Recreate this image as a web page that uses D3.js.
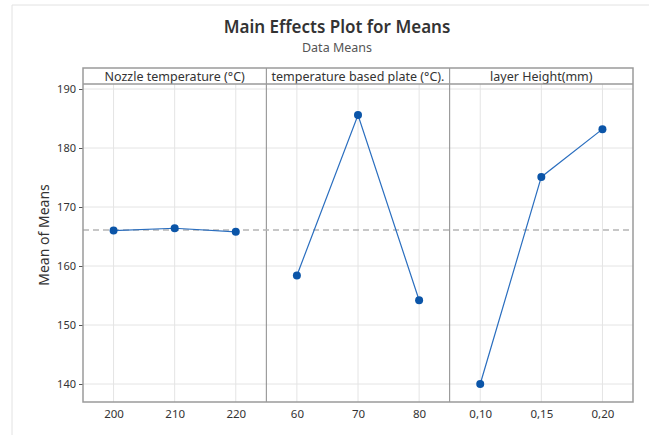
<!doctype html>
<meta charset="utf-8">
<style>
    body { margin: 0; background: #fff; font-family: "Noto Sans", "Open Sans", sans-serif; }
    .grid line { stroke: #e4e4e4; }
</style>
<body>
<script src="https://d3js.org/d3.v7.min.js"></script>
<script>
    // factors and their level labels
    const factors = ['Nozzle temperature (°C)', 'temperature based plate (°C).', 'layer Height(mm)'];
    const nozzleLevels = ['200', '210', '220'];
    const plateLevels = ['60', '70', '80'];
    const layerLevels = ['0,10', '0,15', '0,20'];
    // means
    const nozzleMeans = [166.0, 166.4, 165.8];
    const plateMeans = [158.4, 185.6, 154.2];
    const layerMeans = [140.0, 175.1, 183.2];
    const grandMean = 166.1;
    const yTicks = [140, 150, 160, 170, 180, 190];

    const panels = [
        {name: factors[0], levels: nozzleLevels, means: nozzleMeans},
        {name: factors[1], levels: plateLevels, means: plateMeans},
        {name: factors[2], levels: layerLevels, means: layerMeans}
    ];

    const W = 649, H = 435;
    const plotLeft = 83, plotRight = 633, stripTop = 68, plotTop = 84, plotBottom = 402;
    const panelW = (plotRight - plotLeft) / panels.length;

    const svg = d3.select('body').append('svg')
        .attr('width', W).attr('height', H);

    // faint outer frame
    svg.append('line').attr('x1', 12).attr('x2', W).attr('y1', 5).attr('y2', 5)
        .attr('stroke', '#e2e2e2');
    svg.append('line').attr('x1', 12).attr('x2', 12).attr('y1', 5).attr('y2', H)
        .attr('stroke', '#e2e2e2');

    svg.append('text').attr('x', 337).attr('y', 33).attr('text-anchor', 'middle')
        .attr('font-size', 17).attr('font-weight', 600).attr('fill', '#333')
        .text('Main Effects Plot for Means');
    svg.append('text').attr('x', 337).attr('y', 52).attr('text-anchor', 'middle')
        .attr('font-size', 12.5).attr('fill', '#555')
        .text('Data Means');

    const y = d3.scaleLinear().domain([136.95, 190.85]).range([plotBottom, plotTop]);

    // horizontal grid
    svg.append('g').attr('class', 'grid')
        .selectAll('line').data(yTicks).enter().append('line')
        .attr('x1', plotLeft).attr('x2', plotRight)
        .attr('y1', d => y(d)).attr('y2', d => y(d));

    // y axis
    const yAxis = svg.append('g').attr('transform', `translate(${plotLeft}, 0)`)
        .call(d3.axisLeft(y).tickValues(yTicks).tickSize(4).tickPadding(3));
    yAxis.select('.domain').remove();
    yAxis.selectAll('line').attr('stroke', '#555');
    yAxis.selectAll('text').attr('font-size', 11).attr('fill', '#333')
        .attr('font-family', '"Noto Sans", sans-serif');

    svg.append('text')
        .attr('transform', `translate(49, ${(plotTop + plotBottom) / 2 - 8}) rotate(-90)`)
        .attr('text-anchor', 'middle').attr('font-size', 14).attr('fill', '#333')
        .text('Mean of Means');

    panels.forEach((p, i) => {
        const x0 = plotLeft + i * panelW;
        const x = d3.scalePoint().domain(p.levels).range([x0, x0 + panelW]).padding(0.5);
        const g = svg.append('g');

        g.append('g').attr('class', 'grid')
            .selectAll('line').data(p.levels).enter().append('line')
            .attr('x1', d => x(d)).attr('x2', d => x(d))
            .attr('y1', plotTop).attr('y2', plotBottom);

        const xAxis = g.append('g').attr('transform', `translate(0, ${plotBottom})`)
            .call(d3.axisBottom(x).tickSize(0).tickPadding(8));
        xAxis.select('.domain').remove();
        xAxis.selectAll('text').attr('font-size', 11.5).attr('fill', '#333')
            .attr('font-family', '"Noto Sans", sans-serif');

        // strip label
        g.append('text').attr('x', x0 + panelW / 2).attr('y', stripTop + 12.5)
            .attr('text-anchor', 'middle').attr('font-size', 12.5).attr('fill', '#333')
            .text(p.name);

        if (i > 0) {
            g.append('line').attr('x1', x0).attr('x2', x0).attr('y1', stripTop).attr('y2', plotBottom)
                .attr('stroke', '#8a8a8a');
        }
    });

    // grand mean reference
    svg.append('line').attr('x1', plotLeft).attr('x2', plotRight)
        .attr('y1', y(grandMean)).attr('y2', y(grandMean))
        .attr('stroke', '#b5b5b5').attr('stroke-width', 1.4).attr('stroke-dasharray', '6,4');

    panels.forEach((p, i) => {
        const x0 = plotLeft + i * panelW;
        const x = d3.scalePoint().domain(p.levels).range([x0, x0 + panelW]).padding(0.5);
        const pts = p.levels.map((l, j) => [x(l), y(p.means[j])]);
        svg.append('path').attr('d', d3.line()(pts))
            .attr('fill', 'none').attr('stroke', '#2a6ebf').attr('stroke-width', 1.2);
        svg.selectAll(null).data(pts).enter().append('circle')
            .attr('cx', d => d[0]).attr('cy', d => d[1]).attr('r', 4)
            .attr('fill', '#0b55a8');
    });

    // frame and strip separator
    svg.append('rect').attr('x', plotLeft).attr('y', stripTop)
        .attr('width', plotRight - plotLeft).attr('height', plotBottom - stripTop)
        .attr('fill', 'none').attr('stroke', '#9a9a9a').attr('stroke-width', 1.5);
    svg.append('line').attr('x1', plotLeft).attr('x2', plotRight).attr('y1', plotTop).attr('y2', plotTop)
        .attr('stroke', '#9a9a9a').attr('stroke-width', 1.5);
</script>
